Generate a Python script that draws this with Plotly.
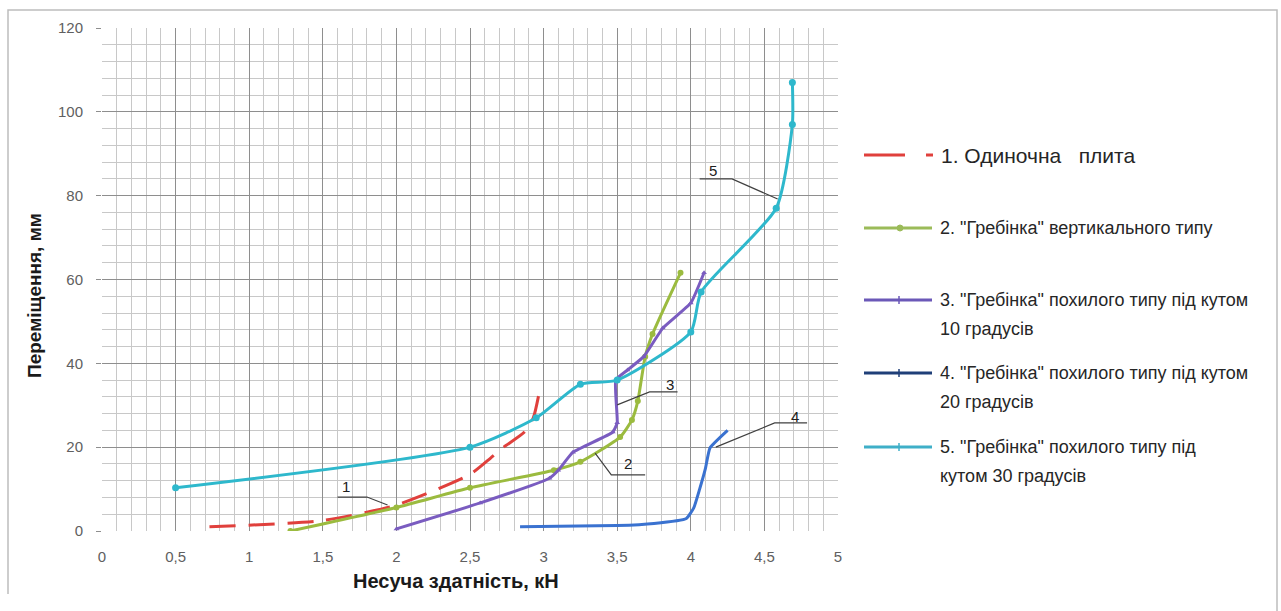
import plotly.graph_objects as go

# ---------------- data ----------------
x_ticks = [0, 0.5, 1, 1.5, 2, 2.5, 3, 3.5, 4, 4.5, 5]
x_tick_labels = ["0", "0,5", "1", "1,5", "2", "2,5", "3", "3,5", "4", "4,5", "5"]
y_ticks = [0, 20, 40, 60, 80, 100, 120]
y_tick_labels = ["0", "20", "40", "60", "80", "100", "120"]

s1_x = [0.73, 1.5, 2.0, 2.5, 2.64, 2.72, 2.87, 2.93, 2.97]
s1_y = [1.0, 2.5, 6.2, 13.5, 17.4, 19.8, 23.6, 27.0, 33.0]

s2_x = [1.28, 2.0, 2.5, 3.07, 3.25, 3.52, 3.6, 3.64, 3.69, 3.74, 3.93]
s2_y = [0.0, 5.6, 10.3, 14.5, 16.5, 22.4, 26.5, 31.0, 41.6, 47.0, 61.6]

s3_x = [2.0, 2.57, 3.04, 3.1, 3.2, 3.47, 3.5, 3.49, 3.57, 3.68, 3.81, 4.0, 4.09]
s3_y = [0.5, 6.7, 12.6, 14.5, 18.8, 23.6, 25.8, 36.0, 38.4, 41.6, 48.4, 54.4, 61.6]

s4_x = [2.84, 3.5, 3.75, 3.97, 4.02, 4.06, 4.1, 4.13, 4.25]
s4_y = [1.0, 1.3, 1.8, 3.0, 5.5, 10.0, 15.0, 19.8, 24.0]

s5_x = [0.5, 2.5, 2.95, 3.25, 3.5, 4.0, 4.07, 4.58, 4.69, 4.69]
s5_y = [10.3, 20.0, 27.0, 35.0, 36.0, 47.5, 57.0, 77.0, 97.0, 107.0]

series_names = [
    ["1. Одиночна &nbsp; плита"],
    ["2. \"Гребінка\" вертикального типу"],
    ["3. \"Гребінка\" похилого типу під кутом", "10 градусів"],
    ["4. \"Гребінка\" похилого типу під кутом", "20 градусів"],
    ["5. \"Гребінка\" похилого типу під", "кутом 30 градусів"],
]
line_colors = ["#E0403C", "#9BBB3F", "#7A5CC0", "#3A72D0", "#2EB8CC"]
legend_colors = ["#E0403C", "#9BBB59", "#6B58B8", "#1F3F78", "#3FAFC8"]

# leader lines: label, label position, polyline
leader_labels = ["1", "2", "3", "4", "5"]
leader_text_xy = [(1.66, 10.6), (3.57, 16.2), (3.86, 35.0), (4.71, 27.4), (4.15, 86.0)]
leader_paths = [
    [(1.60, 8.1), (1.80, 8.1), (1.94, 6.2)],
    [(3.35, 18.6), (3.46, 13.4), (3.69, 13.4)],
    [(3.50, 30.1), (3.72, 33.2), (3.91, 33.2)],
    [(4.17, 20.0), (4.57, 25.8), (4.79, 25.8)],
    [(4.06, 84.0), (4.28, 84.0), (4.59, 79.2)],
]

# ---------------- figure ----------------
W, H = 1281, 611
L, R, T, B = 102, 443, 28, 80
PW, PH = W - L - R, H - T - B


def px(xpix):
    return (xpix - L) / PW


def py(ypix):
    return (H - B - ypix) / PH


fig = go.Figure()

fig.add_trace(go.Scatter(x=s1_x, y=s1_y, mode="lines",
                         line=dict(color=line_colors[0], width=3, dash="26px,13px", shape="spline", smoothing=0.6),
                         showlegend=False))
fig.add_trace(go.Scatter(x=s2_x, y=s2_y, mode="lines+markers",
                         line=dict(color=line_colors[1], width=3, shape="spline", smoothing=0.5),
                         marker=dict(symbol="circle", size=6, color=line_colors[1]),
                         showlegend=False))
fig.add_trace(go.Scatter(x=s3_x, y=s3_y, mode="lines+markers",
                         line=dict(color=line_colors[2], width=3, shape="spline", smoothing=0.4),
                         marker=dict(symbol="triangle-up", size=5, color=line_colors[2]),
                         showlegend=False))
fig.add_trace(go.Scatter(x=s4_x, y=s4_y, mode="lines",
                         line=dict(color=line_colors[3], width=3, shape="spline", smoothing=0.4),
                         showlegend=False))
fig.add_trace(go.Scatter(x=s5_x, y=s5_y, mode="lines+markers",
                         line=dict(color=line_colors[4], width=3, shape="spline", smoothing=0.6),
                         marker=dict(symbol="circle", size=7, color=line_colors[4]),
                         showlegend=False))

shapes = []
annotations = []

# leader lines
for lab, (tx, ty), path in zip(leader_labels, leader_text_xy, leader_paths):
    d = "M " + " L ".join(f"{x},{y}" for x, y in path)
    shapes.append(dict(type="path", xref="x", yref="y", path=d,
                       line=dict(color="#404040", width=1.2)))
    annotations.append(dict(x=tx, y=ty, xref="x", yref="y", text=lab, showarrow=False,
                            font=dict(family="Liberation Sans, Arial", size=15, color="#202020")))

# manual legend
leg_line_y = [155, 228, 300, 373, 447]
for i, (lines, col, ly) in enumerate(zip(series_names, legend_colors, leg_line_y)):
    if i == 0:
        shapes.append(dict(type="line", xref="paper", yref="paper",
                           x0=px(864), x1=px(905), y0=py(ly), y1=py(ly),
                           line=dict(color=col, width=3)))
        shapes.append(dict(type="line", xref="paper", yref="paper",
                           x0=px(926), x1=px(933), y0=py(ly), y1=py(ly),
                           line=dict(color=col, width=3)))
        fsize = 21
        tx = 939
    else:
        shapes.append(dict(type="line", xref="paper", yref="paper",
                           x0=px(864), x1=px(932), y0=py(ly), y1=py(ly),
                           line=dict(color=col, width=3)))
        fsize = 18
        tx = 938
        if i == 1:
            shapes.append(dict(type="circle", xref="paper", yref="paper",
                               x0=px(897), x1=px(903), y0=py(ly - 3), y1=py(ly + 3),
                               fillcolor=col, line=dict(color=col, width=1)))
        else:
            shapes.append(dict(type="line", xref="paper", yref="paper",
                               x0=px(899), x1=px(899), y0=py(ly - 4), y1=py(ly + 4),
                               line=dict(color=col, width=1.5)))
    for k, txt in enumerate(lines):
        annotations.append(dict(x=px(tx), y=py(ly + 29 * k), xref="paper", yref="paper",
                                xanchor="left", yanchor="middle", align="left", showarrow=False,
                                text=txt,
                                font=dict(family="Liberation Sans, Arial", size=fsize, color="#262626")))

# axis titles
annotations.append(dict(x=px(456), y=py(581), xref="paper", yref="paper", showarrow=False,
                        xanchor="center", yanchor="middle",
                        text="<b>Несуча здатність, кН</b>",
                        font=dict(family="Liberation Sans, Arial", size=20, color="#1a1a1a")))
annotations.append(dict(x=px(35), y=py(296), xref="paper", yref="paper", showarrow=False,
                        xanchor="center", yanchor="middle",
                        text="<b>Переміщення, мм</b>", textangle=-90,
                        font=dict(family="Liberation Sans, Arial", size=19, color="#1a1a1a")))

# outer border (left, top, right)
shapes.append(dict(type="path", xref="paper", yref="paper",
                   path=f"M {px(8)},{py(594)} L {px(8)},{py(10)} L {px(1277)},{py(10)} L {px(1277)},{py(611)}",
                   line=dict(color="#BDBDBD", width=1.5)))

fig.update_layout(
    width=W, height=H,
    margin=dict(l=L, r=R, t=T, b=B),
    paper_bgcolor="white", plot_bgcolor="white",
    shapes=shapes, annotations=annotations,
    showlegend=False,
    font=dict(family="Liberation Sans, Arial"),
)

fig.update_xaxes(range=[0, 5], tickmode="array", tickvals=x_ticks, ticktext=x_tick_labels,
                 showgrid=True, gridcolor="#8E8E8E", gridwidth=1,
                 minor=dict(dtick=0.1, showgrid=True, gridcolor="#C8C8C8", gridwidth=1),
                 zeroline=False, showline=False, ticks="",
                 tickfont=dict(size=15, color="#606060"), ticklabelstandoff=15)
fig.update_yaxes(range=[0, 120], tickmode="array", tickvals=y_ticks, ticktext=y_tick_labels,
                 showgrid=True, gridcolor="#8E8E8E", gridwidth=1,
                 minor=dict(dtick=4, showgrid=True, gridcolor="#C8C8C8", gridwidth=1),
                 zeroline=False, showline=False, ticks="outside", ticklen=5, tickcolor="#8E8E8E",
                 tickfont=dict(size=15, color="#606060"), ticklabelstandoff=10)

fig.write_html("out.html")
